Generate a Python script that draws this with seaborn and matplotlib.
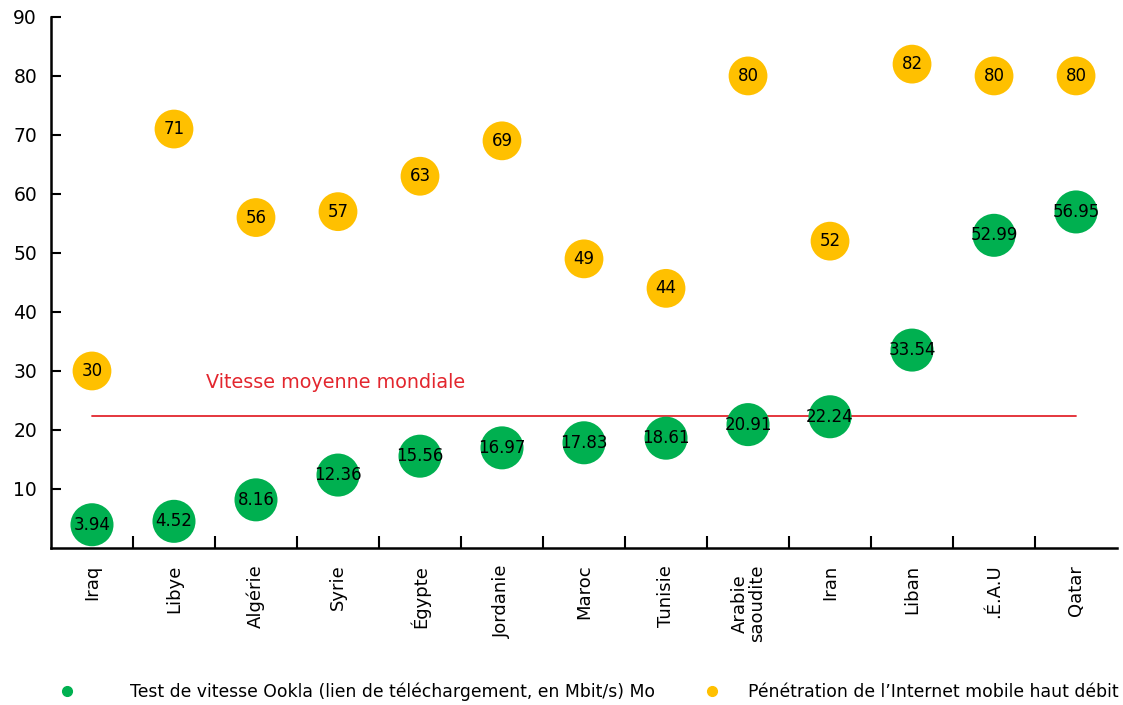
import matplotlib
matplotlib.use("Agg")
import matplotlib.pyplot as plt
import seaborn as sns
import pandas as pd
import numpy as np
from matplotlib.lines import Line2D

countries = ["Iraq", "Libye", "Algérie", "Syrie", "Égypte", "Jordanie", "Maroc",
             "Tunisie", "Arabie\nsaoudite", "Iran", "Liban", ".É.A.U", "Qatar"]
ookla = [3.94, 4.52, 8.16, 12.36, 15.56, 16.97, 17.83, 18.61, 20.91, 22.24, 33.54, 52.99, 56.95]
penetration = [30, 71, 56, 57, 63, 69, 49, 44, 80, 52, 82, 80, 80]
penetration_labels = ["30", "71", "56", "57", "63", "69", "49", "44", "80", "52", "82", "80", "80"]
world_avg = 22.4
world_label = "Vitesse moyenne mondiale"
legend_labels = ["Test de vitesse Ookla (lien de téléchargement, en Mbit/s) Mo",
                 "Pénétration de l\u2019Internet mobile haut débit"]
yticks = [10, 20, 30, 40, 50, 60, 70, 80, 90]

GREEN = "#00B050"
YELLOW = "#FFC000"
RED = "#E3262E"

sns.set_style("white")
plt.rcParams['font.family'] = ['DejaVu Sans']

df = pd.DataFrame({"x": np.arange(len(countries)), "country": countries,
                   "ookla": ookla, "pen": penetration})

W, H = 1123, 705
fig = plt.figure(figsize=(W / 100, H / 100), dpi=100)
ax = fig.add_axes([0.0454, 0.2227, 0.9493, 0.7533])

sns.scatterplot(data=df, x="x", y="pen", ax=ax, color=YELLOW, s=780,
                edgecolor="none", legend=False, zorder=3)
sns.scatterplot(data=df, x="x", y="ookla", ax=ax, color=GREEN, s=960,
                edgecolor="none", legend=False, zorder=3)

for i, (o, p, pl) in enumerate(zip(ookla, penetration, penetration_labels)):
    ax.text(i, p, pl, ha="center", va="center", fontsize=12, color="black", zorder=4)
    ax.text(i, o, f"{o:.2f}", ha="center", va="center", fontsize=12, color="black", zorder=4)

ax.plot([0, len(countries) - 1], [world_avg, world_avg], color=RED, lw=1.3, zorder=2)
ax.text(1.39, 28.0, world_label, color=RED, fontsize=13.8, ha="left", va="center")

ax.set_xlim(-0.5, len(countries) - 0.5)
ax.set_ylim(0, 90)
ax.set_yticks(yticks)
ax.set_yticklabels([str(t) for t in yticks], fontsize=13.5, color="black")
ax.set_xticks(np.arange(len(countries)))
ax.set_xticklabels(countries, rotation=90, fontsize=13, ha="center", va="top",
                   linespacing=0.95, color="black")
ax.set_xticks(np.arange(len(countries) - 1) + 0.5, minor=True)
ax.tick_params(axis="x", which="major", length=0, pad=12, bottom=True)
ax.tick_params(axis="x", which="minor", direction="in", length=9, width=1.5,
               color="black", bottom=True)
ax.tick_params(axis="y", direction="in", length=7, width=1.5, color="black",
               pad=10, left=True)
ax.set_xlabel("")
ax.set_ylabel("")

for s in ["top", "right"]:
    ax.spines[s].set_visible(False)
for s in ["left", "bottom"]:
    ax.spines[s].set_color("black")
    ax.spines[s].set_linewidth(1.8)

fs = 12.4
em = fs * 100 / 72
ly = (H - 692) / H
h1 = Line2D([], [], marker="o", ls="", color=GREEN, markersize=7)
h2 = Line2D([], [], marker="o", ls="", color=YELLOW, markersize=7)
fig.legend([h1], [legend_labels[0]], loc="center left",
           bbox_to_anchor=((67 - em / 2) / W, ly), frameon=False, fontsize=fs,
           borderpad=0, borderaxespad=0, handlelength=1.0,
           handletextpad=(130 - 67 - em / 2) / em, labelcolor="black")
fig.legend([h2], [legend_labels[1]], loc="center left",
           bbox_to_anchor=((712 - em / 2) / W, ly), frameon=False, fontsize=fs,
           borderpad=0, borderaxespad=0, handlelength=1.0,
           handletextpad=(748 - 712 - em / 2) / em, labelcolor="black")

fig.savefig("out.png", dpi=100)
